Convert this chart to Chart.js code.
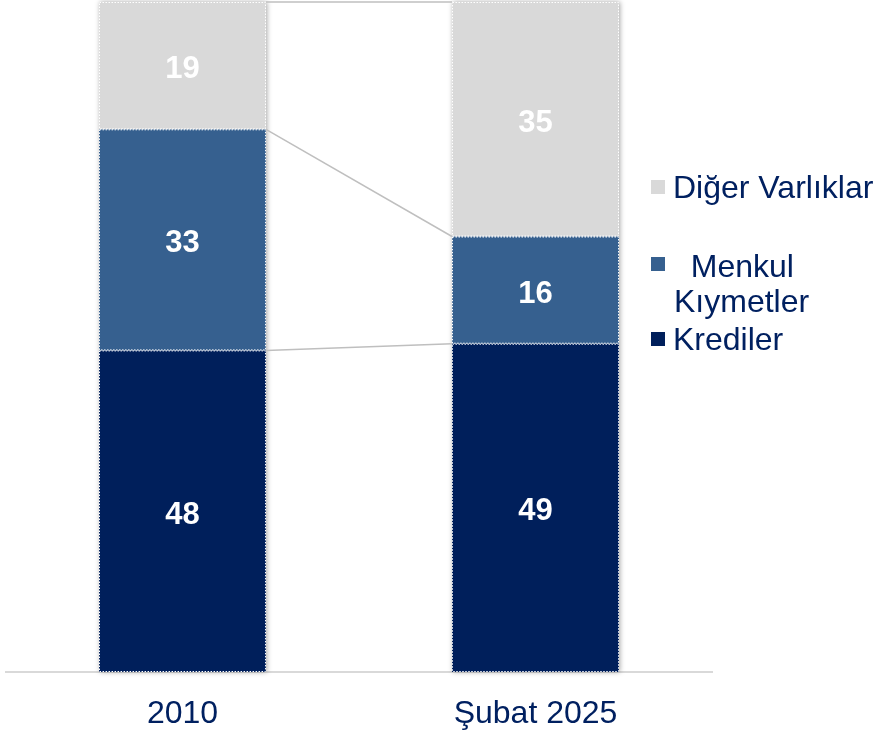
<!DOCTYPE html>
<html>
<head>
<meta charset="utf-8">
<script src="https://cdn.jsdelivr.net/npm/chart.js@4.4.1/dist/chart.umd.min.js"></script>
<style>
html,body{margin:0;padding:0;background:#fff;}
#wrap{position:relative;width:879px;height:732px;}
</style>
</head>
<body>
<div id="wrap"><canvas id="c" width="879" height="732"></canvas></div>
<script>
const categories = ['2010', 'Şubat 2025'];
const krediler = [48, 49];
const menkul = [33, 16];
const diger = [19, 35];
const seriesNames = ['Krediler', ['  Menkul', 'Kıymetler'], 'Diğer Varlıklar'];
const colors = ['#001F5B', '#36608F', '#D9D9D9'];
const FONT = '"Liberation Sans", Arial, sans-serif';

const seriesValues = [krediler, menkul, diger];

const connectorPlugin = {
  id: 'connectors',
  beforeDatasetsDraw(chart) {
    const ctx = chart.ctx;
    const y = chart.scales.y;
    const m0 = chart.getDatasetMeta(0).data;
    ctx.save();
    ctx.shadowColor = 'rgba(0,0,0,0.35)';
    ctx.shadowBlur = 5;
    ctx.shadowOffsetX = 1;
    ctx.fillStyle = '#ffffff';
    for (let i = 0; i < categories.length; i++) {
      const el = m0[i];
      const total = seriesValues.reduce((s, a) => s + a[i], 0);
      const top = y.getPixelForValue(total);
      ctx.fillRect(el.x - el.width / 2, top, el.width, el.base - top);
    }
    ctx.restore();
    ctx.save();
    ctx.strokeStyle = '#BFBFBF';
    ctx.lineWidth = 1.5;
    for (let i = 0; i < categories.length - 1; i++) {
      const a = m0[i], b = m0[i + 1];
      let cumA = 0, cumB = 0;
      for (let s = 0; s < seriesValues.length; s++) {
        cumA += seriesValues[s][i];
        cumB += seriesValues[s][i + 1];
        ctx.beginPath();
        ctx.moveTo(a.x + a.width / 2, y.getPixelForValue(cumA));
        ctx.lineTo(b.x - b.width / 2, y.getPixelForValue(cumB));
        ctx.stroke();
      }
    }
    ctx.restore();
  },
  afterDatasetsDraw(chart) {
    const ctx = chart.ctx;
    ctx.save();
    chart.data.datasets.forEach((ds, di) => {
      const meta = chart.getDatasetMeta(di);
      meta.data.forEach((el, i) => {
        const left = el.x - el.width / 2;
        const top = Math.min(el.y, el.base);
        const h = Math.abs(el.base - el.y);
        ctx.strokeStyle = '#ffffff';
        ctx.lineWidth = 1;
        ctx.setLineDash([1.5, 1.5]);
        ctx.strokeRect(left + 0.5, top + 0.5, el.width - 1, h - 1);
        ctx.setLineDash([]);
        ctx.fillStyle = '#ffffff';
        ctx.font = 'bold 31px ' + FONT;
        ctx.textAlign = 'center';
        ctx.textBaseline = 'middle';
        ctx.fillText(String(ds.data[i]), el.x, (el.y + el.base) / 2 + 4);
      });
    });
    ctx.restore();
  },
  afterDraw(chart) {
    const ctx = chart.ctx;
    ctx.save();
    ctx.font = '32px ' + FONT;
    ctx.textBaseline = 'alphabetic';
    ctx.textAlign = 'left';
    const items = [
      { color: colors[2], sq: 180, lines: [[seriesNames[2], 673, 198]] },
      { color: colors[1], sq: 257, lines: [[seriesNames[1][0], 673, 277], [seriesNames[1][1], 674, 312]] },
      { color: colors[0], sq: 332, lines: [[seriesNames[0], 673, 350]] }
    ];
    items.forEach(it => {
      ctx.fillStyle = it.color;
      ctx.fillRect(651, it.sq, 14, 14);
      ctx.fillStyle = '#002060';
      it.lines.forEach(l => ctx.fillText(l[0], l[1], l[2]));
    });
    ctx.restore();
  }
};

new Chart(document.getElementById('c'), {
  type: 'bar',
  data: {
    labels: categories,
    datasets: [
      { label: 'Krediler', data: krediler, backgroundColor: colors[0] },
      { label: 'Menkul Kıymetler', data: menkul, backgroundColor: colors[1] },
      { label: 'Diğer Varlıklar', data: diger, backgroundColor: colors[2] }
    ]
  },
  options: {
    responsive: false,
    animation: false,
    layout: { padding: { left: 6, right: 167, top: 2, bottom: 0 } },
    datasets: { bar: { categoryPercentage: 1, barPercentage: 0.473, borderWidth: 0 } },
    plugins: { legend: { display: false }, tooltip: { enabled: false } },
    scales: {
      x: {
        stacked: true,
        grid: { display: false, drawTicks: false },
        border: { display: true, color: '#D9D9D9', width: 2 },
        ticks: { color: '#002060', font: { family: FONT, size: 32 }, padding: 23 },
        afterFit(scale) { scale.height = 60; }
      },
      y: { stacked: true, display: false, min: 0, max: 100 }
    }
  },
  plugins: [connectorPlugin]
});
</script>
</body>
</html>
